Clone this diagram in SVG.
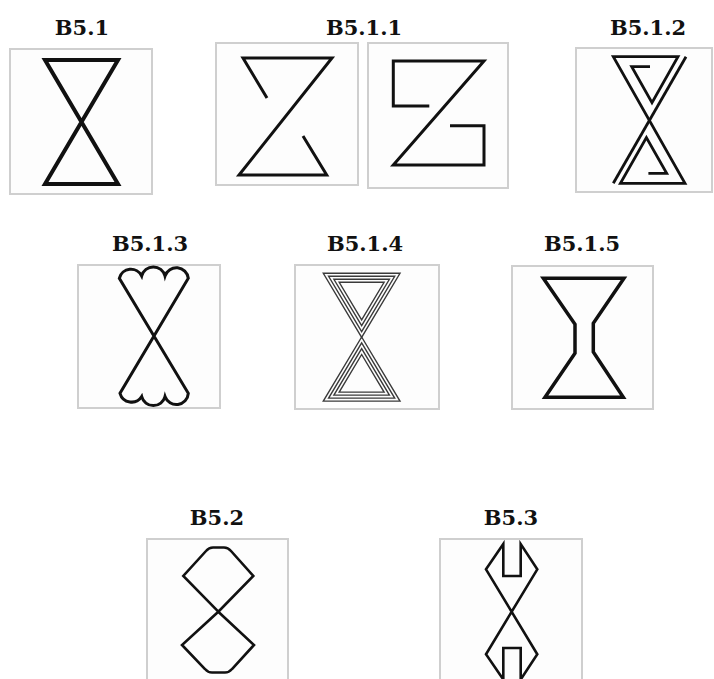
<svg xmlns="http://www.w3.org/2000/svg" width="714" height="679" viewBox="0 0 714 679">
<style>
.lbl{font-family:"DejaVu Serif","Liberation Serif",serif;font-weight:bold;font-size:21px;fill:#111;text-anchor:middle}
.box{fill:#fdfdfd;stroke:#cfcfcf;stroke-width:2}
.sym{fill:none;stroke:#111;stroke-linejoin:miter;stroke-linecap:butt}
.thin{fill:none;stroke:#3a3a3a;stroke-width:1.4}
</style>
<rect width="714" height="679" fill="#fff"/>
<g id="b51">
<text class="lbl" x="82" y="35">B5.1</text>
<rect class="box" x="10" y="49" width="142" height="145"/>
<path class="sym" stroke-width="4" d="M45,60 H118 L45,184 H118 Z"/>
</g>
<g id="b511">
<text class="lbl" x="364" y="35">B5.1.1</text>
<rect class="box" x="216" y="43" width="142" height="142"/>
<path class="sym" stroke-width="3" d="M267,98 L243,58 H332 L239,175 H326.7 L303,136"/>
<rect class="box" x="368" y="43" width="140" height="145"/>
<path class="sym" stroke-width="3" d="M429.3,106 H393.3 V61 H484 L393.3,165 H484 V125.7 H450"/>
</g>
<g id="b512">
<text class="lbl" x="648" y="35">B5.1.2</text>
<rect class="box" x="576" y="48" width="136" height="144"/>
<path class="sym" stroke-width="2.8" d="M686,56.7 L613.3,183.3"/>
<path class="sym" stroke-width="2.8" d="M650,66.7 H631.7 L652,102.6 L678,56.7 H613.3 L685,183.3 H620.4 L646.4,137.6 L666.7,173.3 H648.4"/>
</g>
<g id="b513">
<text class="lbl" x="150" y="251">B5.1.3</text>
<rect class="box" x="78" y="265" width="142" height="143"/>
<path class="sym" stroke-width="3" stroke-linejoin="round" d="M119.3,278.3 A12,12 0 0 1 141.7,276 A12,12 0 0 1 165,276 A12,12 0 0 1 188.3,278.3 L120,393.3 A12,12 0 0 0 141.7,396.5 A12,12 0 0 0 165,396.5 A12,12 0 0 0 188.3,393.3 Z"/>
</g>
<g id="b514">
<text class="lbl" x="365" y="251">B5.1.4</text>
<rect class="box" x="295" y="265" width="144" height="144"/>
<path class="thin" d="M323.3,273.3 H400 L361.65,337.4 Z M328.6,276.3 H394.7 L361.65,331.6 Z M333.9,279.3 H389.4 L361.65,325.7 Z M339.2,282.3 H384.1 L361.65,319.9 Z"/>
<path class="thin" d="M323.3,401.1 H400 L361.65,337 Z M328.6,398.1 H394.7 L361.65,342.8 Z M333.9,395.1 H389.4 L361.65,348.7 Z M339.2,392.1 H384.1 L361.65,354.5 Z"/>
</g>
<g id="b515">
<text class="lbl" x="582" y="251">B5.1.5</text>
<rect class="box" x="512" y="266" width="141" height="143"/>
<path class="sym" stroke-width="3.5" d="M543.3,278.3 H624 L593.3,323.3 V352 L623.3,397.3 H545 L575,353.3 V324.3 Z"/>
</g>
<g id="b52">
<text class="lbl" x="217" y="525">B5.2</text>
<rect class="box" x="147" y="539" width="141" height="150"/>
<path class="sym" stroke-width="2.6" stroke-linejoin="round" d="M218.3,611.7 L183.3,576 L206,551 Q209,547.5 213,547.5 L224,547.5 Q228,547.5 231,551 L253.3,576 L218.3,611.7 L182,645 L205,669 Q208,672.5 212,672.5 L225,672.5 Q229,672.5 232,669 L254,645 Z"/>
</g>
<g id="b53">
<text class="lbl" x="511" y="525">B5.3</text>
<rect class="box" x="440" y="539" width="142" height="150"/>
<path class="sym" stroke-width="2.6" d="M486,569.3 L503.3,544 V576 H520.7 V544 L537.3,569.3 L486,654.3 L503.3,679.5 V648 H520.7 V679.5 L537.3,654.3 Z"/>
</g>
<g id="connectors"></g>
</svg>
